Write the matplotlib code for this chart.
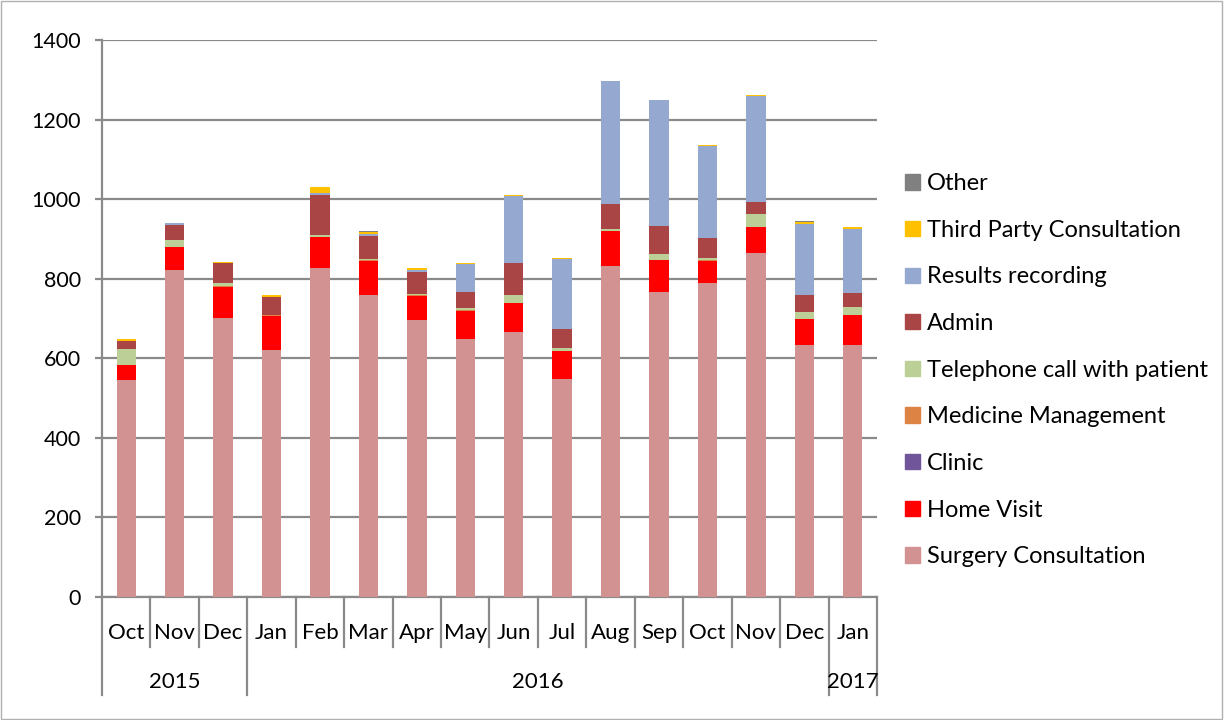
import matplotlib
matplotlib.use("Agg")
import matplotlib.pyplot as plt
import matplotlib.patches as mpatches
import matplotlib.transforms as mtrans
import numpy as np

plt.rcParams['font.family'] = ['Lato', 'DejaVu Sans']

months = ["Oct", "Nov", "Dec", "Jan", "Feb", "Mar", "Apr", "May", "Jun",
          "Jul", "Aug", "Sep", "Oct", "Nov", "Dec", "Jan"]
years = ["2015", "2016", "2017"]
year_spans = [(0, 3), (3, 15), (15, 16)]

surgery = [545, 821, 702, 620, 826, 760, 695, 648, 667, 549, 832, 767, 789, 864, 633, 633]
home = [38, 58, 78, 87, 79, 85, 62, 72, 72, 69, 88, 81, 56, 66, 65, 76]
clinic = [0, 0, 0, 0, 0, 0, 0, 0, 0, 0, 0, 0, 0, 0, 0, 0]
medicine = [1, 0, 2, 2, 1, 3, 2, 1, 0, 1, 1, 0, 1, 0, 0, 0]
telephone = [39, 19, 7, 0, 5, 1, 2, 6, 19, 8, 5, 14, 6, 32, 19, 21]
admin = [20, 37, 50, 46, 99, 59, 56, 40, 81, 46, 61, 71, 50, 30, 41, 35]
results = [0, 5, 0, 0, 5, 5, 5, 69, 169, 176, 309, 315, 231, 266, 179, 160]
third_party = [5, 0, 3, 3, 15, 5, 4, 3, 3, 3, 2, 0, 3, 3, 5, 5]
other = [0, 1, 0, 0, 0, 3, 0, 0, 0, 0, 0, 0, 0, 0, 3, 0]

series = [
    ("Surgery Consultation", surgery, "#D39292"),
    ("Home Visit", home, "#FF0000"),
    ("Clinic", clinic, "#71559A"),
    ("Medicine Management", medicine, "#DD8444"),
    ("Telephone call with patient", telephone, "#BBCF97"),
    ("Admin", admin, "#A94545"),
    ("Results recording", results, "#95A9D0"),
    ("Third Party Consultation", third_party, "#FFC000"),
    ("Other", other, "#808080"),
]

fig = plt.figure(figsize=(12.26, 7.2), dpi=100)
ax = fig.add_axes([102/1226, 1-597/720, (877-102)/1226, (597-40)/720])

x = np.arange(len(months))
bottom = np.zeros(len(months))
handles = []
for name, vals, col in series:
    ax.bar(x, vals, width=0.4, bottom=bottom, color=col, zorder=3)
    bottom += np.array(vals)
    handles.append(mpatches.Patch(color=col, label=name))

ax.set_xlim(-0.5, 15.5)
ax.set_ylim(0, 1400)
ax.set_yticks(range(0, 1401, 200))
ax.yaxis.grid(True, color="#8a8a8a", linewidth=1.6, zorder=0)
for s in ["top", "right"]:
    ax.spines[s].set_visible(False)
ax.spines["left"].set_color("#8a8a8a")
ax.spines["left"].set_linewidth(1.6)
ax.spines["bottom"].set_color("#8a8a8a")
ax.spines["bottom"].set_linewidth(1.6)
ax.tick_params(axis="y", labelsize=15.5, colors="#8a8a8a", labelcolor="black",
               length=5, width=1.6, pad=10)

# month labels and the multi-level category axis
ax.set_xticks(x)
ax.set_xticklabels(months, fontsize=16)
ax.tick_params(axis="x", length=0, pad=19)

trans = mtrans.blended_transform_factory(ax.transData, ax.transAxes)
for b in range(17):
    xb = b - 0.5
    depth = -0.176 if b in (0, 3, 15, 16) else -0.09
    ax.plot([xb, xb], [0, depth], color="#8a8a8a", lw=1.6,
            transform=trans, clip_on=False)
for yr, (a, b) in zip(years, year_spans):
    ax.text((a + b - 1) / 2, -0.153, yr, transform=trans, ha="center",
            va="center", fontsize=16)

fig.legend(handles=handles[::-1], loc="upper left",
           bbox_to_anchor=(884/1226, 1-152/720), frameon=False,
           fontsize=17, handlelength=0.62, handleheight=0.62,
           handletextpad=0.3, labelspacing=1.085)

fig.patches.append(mpatches.Rectangle((0.001, 0.002), 0.996, 0.996,
                   transform=fig.transFigure, fill=False,
                   edgecolor="#b0b0b0", linewidth=1))

fig.savefig("out.png", dpi=100)
